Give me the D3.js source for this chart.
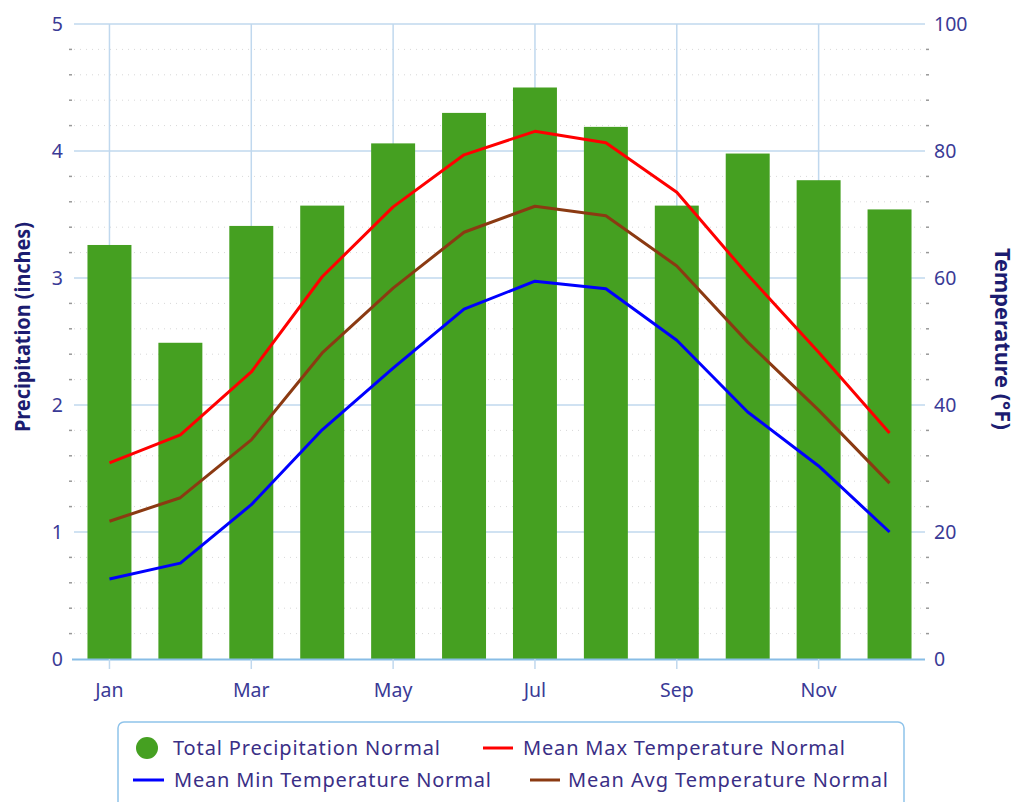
<!DOCTYPE html>
<html><head><meta charset="utf-8">
<script src="https://cdn.jsdelivr.net/npm/d3@7"></script>
<style>body{margin:0;background:#fff}svg{display:block}</style>
</head><body><svg id="c" width="1017" height="802"></svg>
<script>
const months = ["Jan","Feb","Mar","Apr","May","Jun","Jul","Aug","Sep","Oct","Nov","Dec"];
const precip = [3.26, 2.49, 3.41, 3.57, 4.06, 4.30, 4.50, 4.19, 3.57, 3.98, 3.77, 3.54];
const tMax = [30.9, 35.3, 45.2, 60.2, 71.2, 79.4, 83.1, 81.3, 73.5, 60.5, 48.3, 35.6];
const tAvg = [21.7, 25.4, 34.5, 48.2, 58.4, 67.2, 71.3, 69.8, 61.9, 49.9, 39.2, 27.7];
const tMin = [12.6, 15.1, 24.3, 36.1, 45.8, 55.1, 59.5, 58.3, 50.2, 38.9, 30.4, 20.0];
const precipTicks = [0,1,2,3,4,5];
const tempTicks = [0,20,40,60,80,100];
const xTickLabels = ["Jan","Mar","May","Jul","Sep","Nov"];

const svg = d3.select("#c");
const L = 74, R = 925, T = 24, B = 659;
const font = "'Noto Sans', sans-serif";
const tickColor = "#3a3a96";

const x = d3.scaleBand().domain(months).range([L, R]).paddingInner(0.38).paddingOuter(0.19);
const xc = m => x(m) + x.bandwidth()/2;
const yP = d3.scaleLinear().domain([0,5]).range([B, T]);
const yT = d3.scaleLinear().domain([0,100]).range([B, T]);

// minor dotted grid
const minor = d3.range(0, 5.0001, 0.2).filter(v => Math.abs(v - Math.round(v)) > 1e-6);
svg.append("g").selectAll("line").data(minor).join("line")
  .attr("x1", L).attr("x2", R).attr("y1", d => yP(d)).attr("y2", d => yP(d))
  .attr("stroke", "#d8d8d8").attr("stroke-dasharray", "1,5").attr("stroke-width", 1);
svg.append("g").selectAll("line").data(minor).join("line")
  .attr("x1", L-5).attr("x2", L-2).attr("y1", d => yP(d)).attr("y2", d => yP(d))
  .attr("stroke", "#999").attr("stroke-width", 1.5);
svg.append("g").selectAll("line").data(minor).join("line")
  .attr("x1", R+1).attr("x2", R+4).attr("y1", d => yP(d)).attr("y2", d => yP(d))
  .attr("stroke", "#999").attr("stroke-width", 1.5);

// major horizontal grid
svg.append("g").selectAll("line").data(precipTicks.slice(1)).join("line")
  .attr("x1", L).attr("x2", R).attr("y1", d => yP(d)).attr("y2", d => yP(d))
  .attr("stroke", "#c0d8ee").attr("stroke-width", 1.5);
// vertical grid
svg.append("g").selectAll("line").data(xTickLabels).join("line")
  .attr("x1", d => xc(d)).attr("x2", d => xc(d)).attr("y1", T).attr("y2", B)
  .attr("stroke", "#c0d8ee").attr("stroke-width", 1.5);

// bars
svg.append("g").selectAll("rect").data(months).join("rect")
  .attr("x", d => x(d)).attr("width", x.bandwidth())
  .attr("y", (d,i) => yP(precip[i])).attr("height", (d,i) => B - yP(precip[i]))
  .attr("fill", "#45a021");

// x axis line
svg.append("line").attr("x1", L-2).attr("x2", R).attr("y1", B+0.5).attr("y2", B+0.5)
  .attr("stroke", "#88bde6").attr("stroke-width", 2);
svg.append("g").selectAll("line").data(xTickLabels).join("line")
  .attr("x1", d => xc(d)).attr("x2", d => xc(d)).attr("y1", B).attr("y2", B+10)
  .attr("stroke", "#c0d8ee").attr("stroke-width", 1.5);
svg.append("g").selectAll("text").data(xTickLabels).join("text")
  .attr("x", d => xc(d)).attr("y", 697).attr("text-anchor", "middle")
  .attr("font-family", font).attr("font-size", 19.5).attr("fill", tickColor).text(d => d);

// y tick labels
svg.append("g").selectAll("text").data(precipTicks).join("text")
  .attr("x", 63).attr("y", d => yP(d) + 7).attr("text-anchor", "end")
  .attr("font-family", font).attr("font-size", 19.5).attr("fill", tickColor).text(d => d);
svg.append("g").selectAll("text").data(tempTicks).join("text")
  .attr("x", 934).attr("y", d => yT(d) + 7).attr("text-anchor", "start")
  .attr("font-family", font).attr("font-size", 19.5).attr("fill", tickColor).text(d => d);

// axis titles
svg.append("text").attr("transform", "translate(30,327) rotate(-90)").attr("text-anchor", "middle")
  .attr("font-family", font).attr("font-size", 21).attr("font-weight", "bold").attr("fill", "#1c1c70")
  .attr("textLength", 210).attr("lengthAdjust", "spacingAndGlyphs")
  .text("Precipitation (inches)");
svg.append("text").attr("transform", "translate(995,339) rotate(90)").attr("text-anchor", "middle")
  .attr("font-family", font).attr("font-size", 21).attr("font-weight", "bold").attr("fill", "#1c1c70")
  .attr("textLength", 182).attr("lengthAdjust", "spacingAndGlyphs")
  .text("Temperature (°F)");

// lines
const series = [
  {name:"Mean Max Temperature Normal", vals:tMax, color:"#ff0000"},
  {name:"Mean Avg Temperature Normal", vals:tAvg, color:"#8b3a12"},
  {name:"Mean Min Temperature Normal", vals:tMin, color:"#0000ff"}
];
const line = d3.line().x((d,i) => xc(months[i])).y(d => yT(d));
series.forEach(s => {
  svg.append("path").attr("d", line(s.vals)).attr("fill", "none")
    .attr("stroke", s.color).attr("stroke-width", 3).attr("stroke-linejoin", "round");
});

// legend
svg.append("rect").attr("x", 118).attr("y", 722).attr("width", 786).attr("height", 90).attr("rx", 6)
  .attr("fill", "#fff").attr("stroke", "#8fc3ea").attr("stroke-width", 1.5);
const lg = svg.append("g").attr("font-family", font).attr("font-size", 20).attr("fill", "#3a2f86")
  .attr("lengthAdjust", "spacingAndGlyphs");
lg.append("circle").attr("cx", 147).attr("cy", 748).attr("r", 11).attr("fill", "#45a021");
lg.append("text").attr("x", 173).attr("y", 755).attr("textLength", 267).text("Total Precipitation Normal");
lg.append("line").attr("x1", 483).attr("x2", 513).attr("y1", 748).attr("y2", 748).attr("stroke", "#ff0000").attr("stroke-width", 3);
lg.append("text").attr("x", 523).attr("y", 755).attr("textLength", 322).text("Mean Max Temperature Normal");
lg.append("line").attr("x1", 133).attr("x2", 164).attr("y1", 780).attr("y2", 780).attr("stroke", "#0000ff").attr("stroke-width", 3);
lg.append("text").attr("x", 174).attr("y", 787).attr("textLength", 317).text("Mean Min Temperature Normal");
lg.append("line").attr("x1", 530).attr("x2", 560).attr("y1", 780).attr("y2", 780).attr("stroke", "#8b3a12").attr("stroke-width", 3);
lg.append("text").attr("x", 568).attr("y", 787).attr("textLength", 320).text("Mean Avg Temperature Normal");
</script></body></html>
